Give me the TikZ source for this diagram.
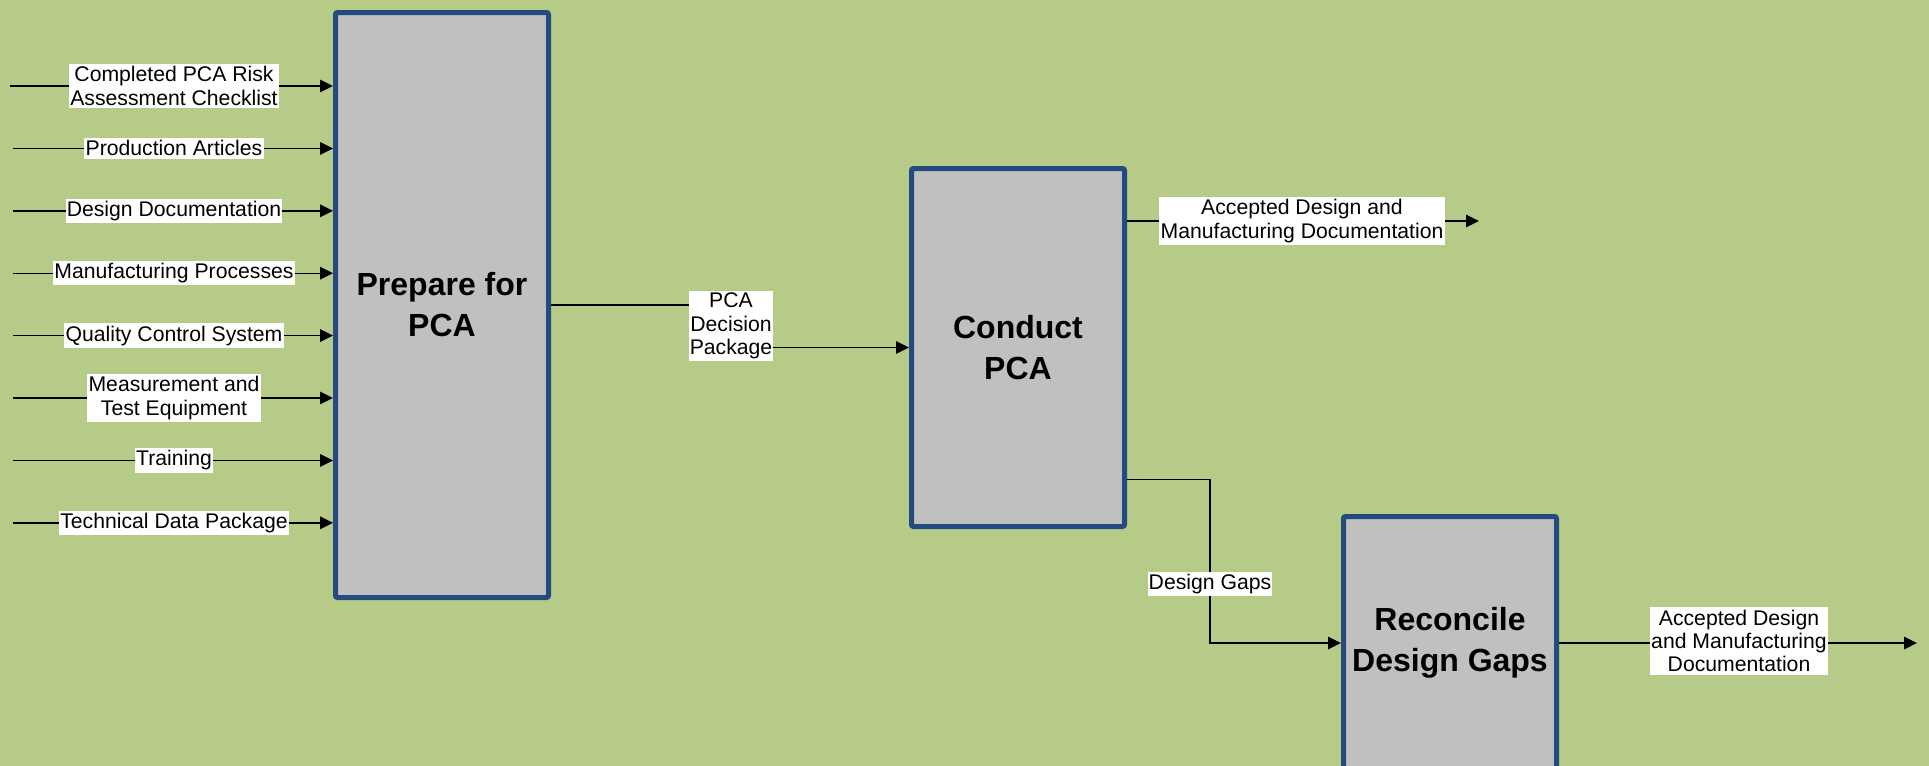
\documentclass[tikz,border=0pt]{standalone}
\usepackage{fontspec}
\setmainfont{Liberation Sans}
\usepackage{xcolor}
\usepackage{tikz}
\usetikzlibrary{arrows.meta}

\definecolor{bggreen}{HTML}{B7CB89}
\definecolor{boxblue}{HTML}{244A7F}
\definecolor{boxgray}{HTML}{C0C0C0}

\begin{document}
\begin{tikzpicture}[
    x=0.5pt, y=-0.5pt,
    process/.style={rectangle, draw=boxblue, fill=boxgray, line width=2.5pt, rounded corners=1pt, minimum width=106.5pt, align=center, font=\fontsize{16}{20.5}\selectfont\bfseries},
    flowtext/.style={rectangle, fill=white, inner xsep=0.6pt, inner ysep=1.2pt, align=center, font=\fontsize{10.6}{11.7}\selectfont},
    arrow/.style={-{Triangle[length=6.5pt, width=6.3pt]}, line width=0.7pt, draw=black}
]

% Background
\fill [bggreen] (0,0) rectangle (1929,766);
\useasboundingbox (0,0) rectangle (1929,766);

% Process Boxes
\node [process, minimum height=292.5pt] (prepare) at (442,305) {Prepare for\\PCA};
\node [process, minimum height=179pt] (conduct) at (1018,347.5) {Conduct\\PCA};
\node [process, minimum height=126.5pt] (reconcile) at (1450,643) {Reconcile\\Design Gaps};

% Input Ends
\coordinate (in1) at (10,86);
\coordinate (in2) at (13,148.4);
\coordinate (in3) at (13,210.8);
\coordinate (in4) at (13,273.2);
\coordinate (in5) at (13,335.6);
\coordinate (in6) at (13,398);
\coordinate (in7) at (13,460.4);
\coordinate (in8) at (13,522.8);

% Arrows - Inputs to Prepare
\draw [arrow] (in1) -- (in1 -| prepare.west);
\draw [arrow] (in2) -- (in2 -| prepare.west);
\draw [arrow] (in3) -- (in3 -| prepare.west);
\draw [arrow] (in4) -- (in4 -| prepare.west);
\draw [arrow] (in5) -- (in5 -| prepare.west);
\draw [arrow] (in6) -- (in6 -| prepare.west);
\draw [arrow] (in7) -- (in7 -| prepare.west);
\draw [arrow] (in8) -- (in8 -| prepare.west);

% Input Labels
\node [flowtext] (checklist) at (174,86) {Completed PCA Risk\\Assessment Checklist};
\node [flowtext] (articles) at (174,148.4) {Production Articles};
\node [flowtext] (designdoc) at (174,210.8) {Design Documentation};
\node [flowtext] (mfgproc) at (174,273.2) {Manufacturing Processes};
\node [flowtext] (qcsystem) at (174,335.6) {Quality Control System};
\node [flowtext] (equipment) at (174,398) {Measurement and\\Test Equipment};
\node [flowtext] (training) at (174,460.4) {Training};
\node [flowtext] (tdp) at (174,522.8) {Technical Data Package};

% Arrows - Prepare to Conduct
\coordinate (pkgbend) at (731,326);
\draw [arrow] (prepare.east) -| (pkgbend) |- (conduct.west);
\node [flowtext] (package) at (pkgbend) {PCA\\Decision\\Package};

% Arrows - Conduct Outputs
\coordinate (acceptout) at (1479,221);
\draw [arrow] (acceptout -| conduct.east) -- (acceptout);
\node [flowtext] (accepted) at (1302,221) {Accepted Design and\\Manufacturing Documentation};

\coordinate (gapbend) at (1210,584);
\draw [arrow] ([yshift=-66pt]conduct.east) -| (gapbend) |- (reconcile.west);
\node [flowtext] (gaps) at (gapbend) {Design Gaps};

% Arrows - Reconcile Output
\coordinate (finalout) at (1917,643);
\draw [arrow] (reconcile.east) -- (finalout);
\node [flowtext] (finalaccepted) at (1739,641) {Accepted Design\\and Manufacturing\\Documentation};

\end{tikzpicture}
\end{document}
